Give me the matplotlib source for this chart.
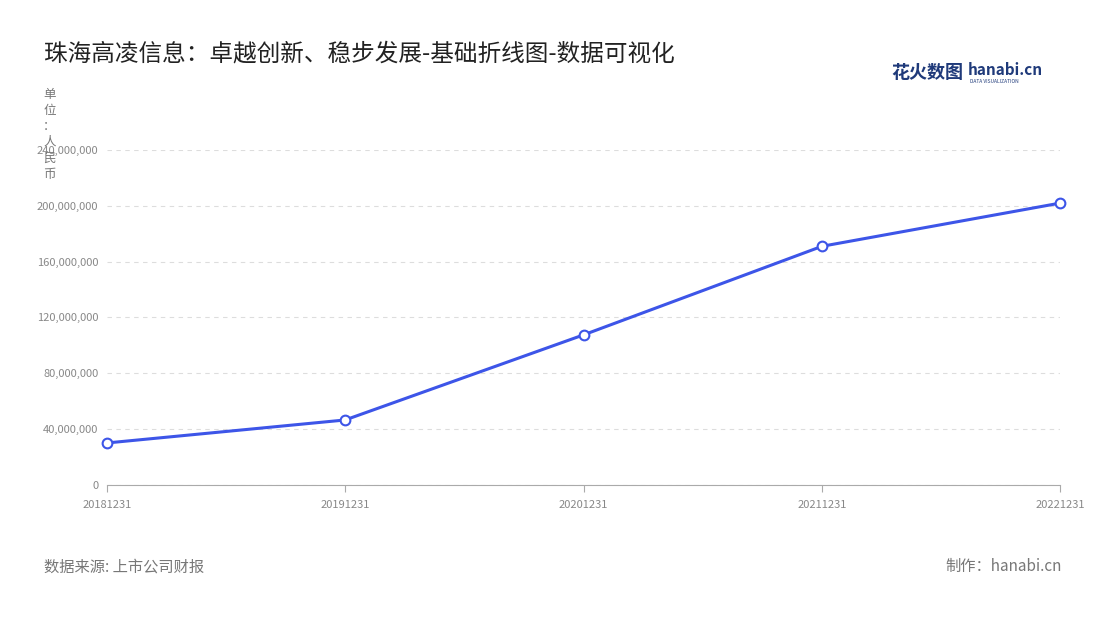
import matplotlib
matplotlib.use("Agg")
import matplotlib.pyplot as plt
from matplotlib.ticker import FuncFormatter

plt.rcParams['font.family'] = ['Noto Sans CJK SC', 'DejaVu Sans']

dates = ["20181231", "20191231", "20201231", "20211231", "20221231"]
values = [30000000, 46500000, 107500000, 171000000, 202000000]
yticks = [0, 40000000, 80000000, 120000000, 160000000, 200000000, 240000000]

fig = plt.figure(figsize=(11, 6.2), dpi=100)
ax = fig.add_axes([0.097, 0.218, 0.867, 0.540])
x = list(range(len(dates)))
ax.plot(x, values, color='#3d55e8', lw=2.2, marker='o', ms=7,
        markerfacecolor='white', markeredgecolor='#3d55e8', markeredgewidth=1.5, zorder=3, clip_on=False)
ax.set_xlim(0, len(dates) - 1)
ax.set_ylim(0, 240000000)
ax.set_xticks(x)
ax.set_xticklabels(dates)
ax.set_yticks(yticks)
ax.yaxis.set_major_formatter(FuncFormatter(lambda v, p: f"{int(v):,}"))
ax.tick_params(axis='both', labelsize=8, colors='#888888', length=0, pad=6)
ax.tick_params(axis='x', length=5, color='#aaaaaa')
ax.grid(axis='y', linestyle=(0, (4, 4)), color='#dddddd', lw=0.8)
for s in ['top', 'right', 'left']:
    ax.spines[s].set_visible(False)
ax.spines['bottom'].set_color('#aaaaaa')

fig.text(0.04, 0.913, "珠海高凌信息：卓越创新、稳步发展-基础折线图-数据可视化", fontsize=17, color='#222222', va='center')
fig.text(0.045, 0.858, "单\n位\n：\n人\n民\n币", fontsize=9, color='#777777', va='top', ha='center', linespacing=1.3)
fig.text(0.810, 0.883, "花火数图", fontsize=13, color='#1f3a7a', fontweight='bold', va='center')
fig.text(0.880, 0.887, "hanabi.cn", fontsize=11, color='#1f3a7a', fontweight='bold', va='center')
fig.text(0.882, 0.868, "DATA VISUALIZATION", fontsize=3.5, color='#1f3a7a', va='center')
fig.text(0.04, 0.086, "数据来源: 上市公司财报", fontsize=11, color='#777777', va='center')
fig.text(0.965, 0.086, "制作：hanabi.cn", fontsize=11, color='#777777', va='center', ha='right')

fig.savefig("out.png", dpi=100)
